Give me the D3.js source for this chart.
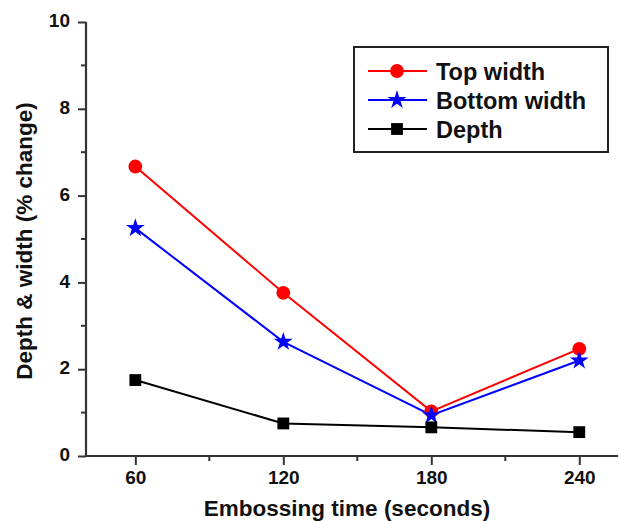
<!DOCTYPE html>
<html><head><meta charset="utf-8">
<script src="https://cdn.jsdelivr.net/npm/d3@7"></script>
<style>body{margin:0;background:#fff}svg{display:block;font-family:"Liberation Sans",Arial,sans-serif}</style>
</head><body><svg id="c" width="619" height="521"></svg>
<script>
const times = [60, 120, 180, 240];
const topWidth = [6.67, 3.76, 1.03, 2.47];
const bottomWidth = [5.25, 2.63, 0.94, 2.2];
const depth = [1.75, 0.75, 0.66, 0.55];
const seriesNames = ["Top width", "Bottom width", "Depth"];
const seriesColors = ["#ff0000", "#0000ff", "#000000"];
const seriesShapes = ["circle", "star", "square"];
const xTicks = [60, 120, 180, 240];
const yTicks = [0, 2, 4, 6, 8, 10];

const svg = d3.select("#c");
const x = d3.scaleLinear().domain([40, 255.7]).range([86, 618]);
const y = d3.scaleLinear().domain([0, 10]).range([456, 22]);
const axisColor = "#333";

const series = [topWidth, bottomWidth, depth].map((v, i) => ({
  name: seriesNames[i], color: seriesColors[i], shape: seriesShapes[i],
  pts: v.map((d, j) => ({t: times[j], v: d}))
}));

// minor ticks
const gx = svg.append("g");
gx.selectAll("line.minor").data([90, 150, 210]).join("line")
  .attr("x1", d => x(d)).attr("x2", d => x(d)).attr("y1", y(0)).attr("y2", y(0) + 5)
  .attr("stroke", axisColor).attr("stroke-width", 2);
gx.selectAll("line.minory").data([1, 3, 5, 7, 9]).join("line")
  .attr("y1", d => y(d)).attr("y2", d => y(d)).attr("x1", x(40)).attr("x2", x(40) - 5)
  .attr("stroke", axisColor).attr("stroke-width", 2);

const xAxis = svg.append("g").attr("transform", `translate(0,${y(0)})`)
  .call(d3.axisBottom(x).tickValues(xTicks).tickSize(9).tickPadding(6));
const yAxis = svg.append("g").attr("transform", `translate(${x(40)},0)`)
  .call(d3.axisLeft(y).tickValues(yTicks).tickSize(8).tickPadding(8));
[xAxis, yAxis].forEach(g => {
  g.attr("font-size", null).attr("font-family", null);
  g.select(".domain").attr("stroke", axisColor).attr("stroke-width", 2.2);
  g.selectAll(".tick line").attr("stroke", axisColor).attr("stroke-width", 2);
  g.selectAll(".tick text").attr("fill", "#111").style("font-size", "19px").style("font-weight", "bold")
    .style("font-family", "'Liberation Sans',Arial,sans-serif");
});
xAxis.select(".domain").attr("d", `M${x(40)},0H618`);
yAxis.select(".domain").attr("d", `M0,${y(10)}V${y(0)}`);
yAxis.selectAll(".tick text").attr("dy", "0.25em");

// titles
svg.append("text").attr("x", 347).attr("y", 515.5).attr("text-anchor", "middle")
  .style("font-size", "22.5px").style("font-weight", "bold").attr("fill", "#111")
  .text("Embossing time (seconds)");
svg.append("text").attr("transform", `translate(32,241) rotate(-90)`).attr("text-anchor", "middle")
  .style("font-size", "22.5px").style("font-weight", "bold").attr("fill", "#111")
  .text("Depth & width (% change)");

const line = d3.line().x(d => x(d.t)).y(d => y(d.v));
const symbolType = s => s === "circle" ? d3.symbolCircle : s === "star" ? d3.symbolStar : d3.symbolSquare;
const symbolSize = s => s === "circle" ? 150 : s === "star" ? 110 : 140;

series.forEach(s => {
  svg.append("path").datum(s.pts).attr("d", line).attr("fill", "none")
    .attr("stroke", s.color).attr("stroke-width", 2);
});
series.forEach(s => {
  svg.append("g").selectAll("path").data(s.pts).join("path")
    .attr("transform", d => `translate(${x(d.t)},${y(d.v)})`)
    .attr("d", d3.symbol().type(symbolType(s.shape)).size(symbolSize(s.shape)))
    .attr("fill", s.color);
});

// legend
const lg = svg.append("g");
lg.append("rect").attr("x", 354).attr("y", 47).attr("width", 254).attr("height", 105)
  .attr("fill", "#fff").attr("stroke", "#222").attr("stroke-width", 2);
const rowsY = [71, 100, 129];
series.forEach((s, i) => {
  const ry = rowsY[i];
  lg.append("line").attr("x1", 368).attr("x2", 427).attr("y1", ry).attr("y2", ry)
    .attr("stroke", s.color).attr("stroke-width", 2);
  lg.append("path").attr("transform", `translate(397,${ry})`)
    .attr("d", d3.symbol().type(symbolType(s.shape)).size(symbolSize(s.shape))).attr("fill", s.color);
  lg.append("text").attr("x", 436).attr("y", ry + 8.5).style("font-size", "23.5px").style("font-weight", "bold")
    .attr("fill", "#111").text(s.name);
});
</script></body></html>
